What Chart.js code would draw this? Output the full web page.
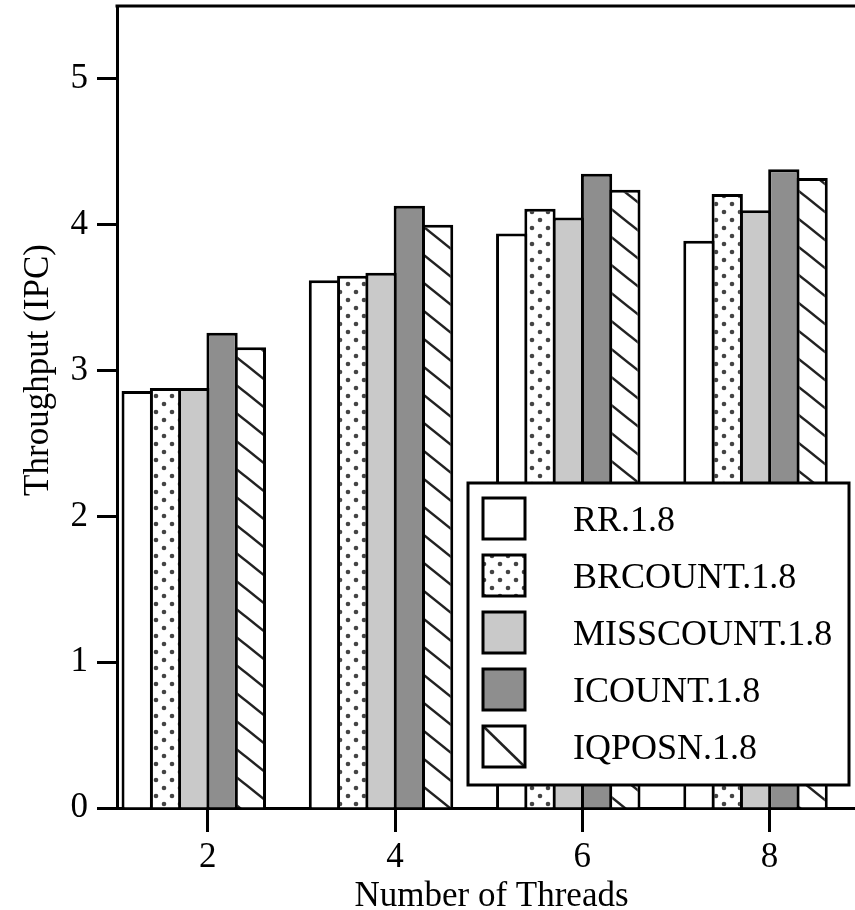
<!DOCTYPE html>
<html>
<head>
<meta charset="utf-8">
<script src="https://cdn.jsdelivr.net/npm/chart.js@4.4.0/dist/chart.umd.min.js"></script>
<style>
  html, body { margin: 0; padding: 0; background: #fff; }
  #wrap { width: 855px; height: 910px; overflow: hidden; }
  canvas { display: block; }
</style>
</head>
<body>
<div id="wrap"><canvas id="chart" width="870" height="911"></canvas></div>
<script>
// values
const threads = [2, 4, 6, 8];
const seriesNames = ['RR.1.8', 'BRCOUNT.1.8', 'MISSCOUNT.1.8', 'ICOUNT.1.8', 'IQPOSN.1.8'];
const rr        = [2.86, 3.62, 3.94, 3.89];
const brcount   = [2.88, 3.65, 4.11, 4.21];
const misscount = [2.88, 3.67, 4.05, 4.10];
const icount    = [3.26, 4.13, 4.35, 4.38];
const iqposn    = [3.16, 4.00, 4.24, 4.32];
const yTicks = [0, 1, 2, 3, 4, 5];
const xTitle = 'Number of Threads';
const yTitle = 'Throughput (IPC)';

const FONT = '"Liberation Serif", "Times New Roman", serif';

function dotPattern() {
  const c = document.createElement('canvas');
  c.width = 16; c.height = 16;
  const g = c.getContext('2d');
  g.fillStyle = '#fff';
  g.fillRect(0, 0, 16, 16);
  g.fillStyle = '#444';
  [[4, 4], [12, 12]].forEach(([x, y]) => {
    g.beginPath();
    g.arc(x, y, 2.3, 0, Math.PI * 2);
    g.fill();
  });
  return g.createPattern(c, 'repeat');
}

function hatchPattern() {
  const w = 35, h = 28;
  const c = document.createElement('canvas');
  c.width = w; c.height = h;
  const g = c.getContext('2d');
  g.fillStyle = '#fff';
  g.fillRect(0, 0, w, h);
  g.strokeStyle = '#222';
  g.lineWidth = 2.5;
  for (const k of [-1, 0, 1]) {
    g.beginPath();
    g.moveTo(-2, (h / w) * -2 + k * h);
    g.lineTo(w + 2, (h / w) * (w + 2) + k * h);
    g.stroke();
  }
  return g.createPattern(c, 'repeat');
}

const values = [rr, brcount, misscount, icount, iqposn];
const fills = ['#ffffff', dotPattern(), '#c9c9c9', '#8e8e8e', hatchPattern()];

const datasets = seriesNames.map((name, i) => ({
  label: name,
  data: threads.map((t, j) => ({ x: t, y: values[i][j] })),
  backgroundColor: fills[i],
  borderColor: '#000',
  borderWidth: 3,
  hatch: i === 4,
  categoryPercentage: 0.7555,
  barPercentage: 1.106
}));

// top edge of the plot box, rotated y title, legend inside the plot
const extras = {
  id: 'extras',
  afterDraw(chart) {
    const { ctx, chartArea: a } = chart;
    ctx.save();
    ctx.strokeStyle = '#000';
    ctx.lineWidth = 3;
    ctx.beginPath();
    ctx.moveTo(a.left - 1.5, a.top);
    ctx.lineTo(a.right, a.top);
    ctx.stroke();

    ctx.save();
    ctx.translate(39, 370);
    ctx.rotate(-Math.PI / 2);
    ctx.font = '35px ' + FONT;
    ctx.textAlign = 'center';
    ctx.textBaseline = 'middle';
    ctx.fillStyle = '#000';
    ctx.fillText(yTitle, 0, 0);
    ctx.restore();

    const bx = a.left + 351, by = a.top + 477;
    ctx.fillStyle = '#fff';
    ctx.fillRect(bx, by, 381, 302);
    ctx.lineWidth = 3;
    ctx.strokeRect(bx, by, 381, 302);
    chart.data.datasets.forEach((ds, i) => {
      const sx = bx + 15, sy = by + 15 + i * 57;
      ctx.fillStyle = ds.hatch ? '#fff' : ds.backgroundColor;
      ctx.fillRect(sx, sy, 42, 41);
      if (ds.hatch) {
        ctx.lineWidth = 2.5;
        ctx.strokeStyle = '#222';
        ctx.beginPath();
        ctx.moveTo(sx, sy);
        ctx.lineTo(sx + 42, sy + 41);
        ctx.stroke();
      }
      ctx.lineWidth = 3;
      ctx.strokeStyle = '#000';
      ctx.strokeRect(sx, sy, 42, 41);
      ctx.fillStyle = '#000';
      ctx.font = '36px ' + FONT;
      ctx.textAlign = 'left';
      ctx.textBaseline = 'alphabetic';
      ctx.fillText(ds.label, bx + 105, sy + 33);
    });
    ctx.restore();
  }
};

new Chart(document.getElementById('chart'), {
  type: 'bar',
  data: { datasets },
  options: {
    responsive: false,
    animation: false,
    layout: { padding: { top: 6, right: 4, left: 0, bottom: 0 } },
    plugins: { legend: { display: false }, tooltip: { enabled: false } },
    scales: {
      x: {
        type: 'linear', display: false, min: 1.18, max: 9.18, offset: false,
        afterBuildTicks: s => { s.ticks = threads.map(v => ({ value: v })); }
      },
      xt: {
        type: 'linear', position: 'bottom', min: 1.03, max: 9.03, offset: false, z: 1,
        afterBuildTicks: s => { s.ticks = threads.map(v => ({ value: v })); },
        afterFit: s => { s.paddingLeft = 0; s.paddingRight = 0; },
        grid: { offset: false, drawOnChartArea: false, drawTicks: true, tickLength: 24, tickWidth: 3, tickColor: '#000' },
        border: { display: true, color: '#000', width: 3 },
        ticks: { color: '#000', font: { family: FONT, size: 35, lineHeight: 1 }, padding: 8, maxRotation: 0, autoSkip: false },
        title: { display: true, text: xTitle, color: '#000', font: { family: FONT, size: 35, lineHeight: 0.8 }, padding: 0 }
      },
      y: {
        min: 0, max: 5.5, z: 1,
        afterBuildTicks: s => { s.ticks = yTicks.map(v => ({ value: v })); },
        afterFit: s => { s.width = 117; s.paddingTop = 0; s.paddingBottom = 0; },
        grid: { drawOnChartArea: false, tickLength: 20, tickWidth: 3, tickColor: '#000' },
        border: { display: true, color: '#000', width: 3 },
        ticks: { color: '#000', font: { family: FONT, size: 35 }, padding: 9 }
      }
    }
  },
  plugins: [extras]
});
</script>
</body>
</html>
